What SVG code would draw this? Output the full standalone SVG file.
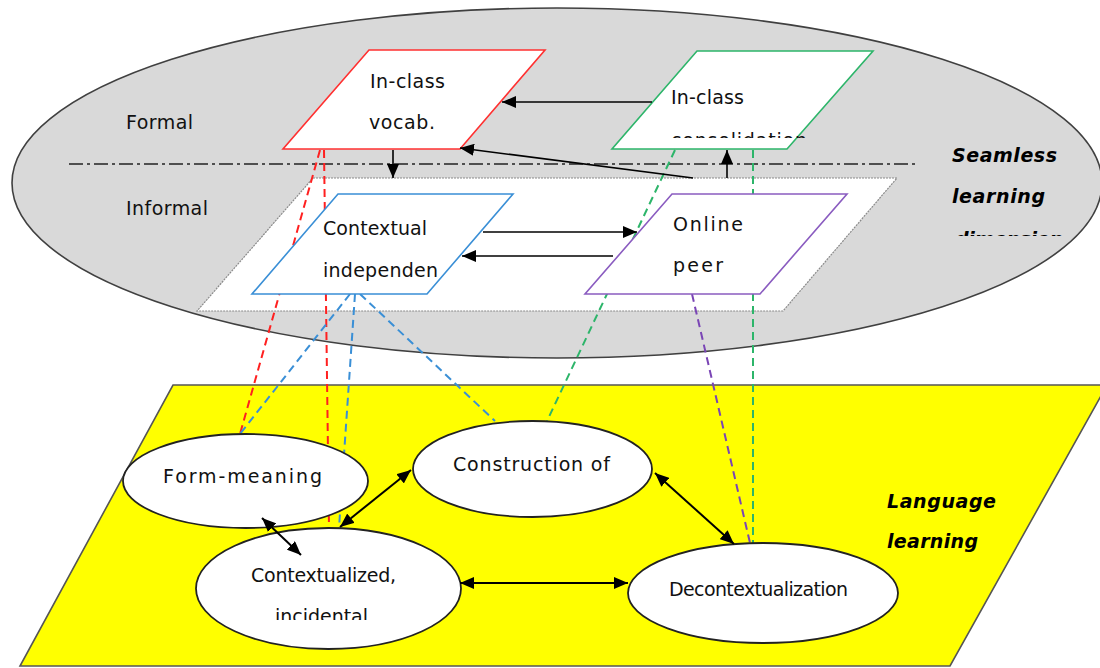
<svg xmlns="http://www.w3.org/2000/svg" width="1100" height="668" viewBox="0 0 1100 668">
<style>
.t{font-family:"DejaVu Sans","Verdana",sans-serif;font-size:19px;fill:#111}
.bi{font-family:"DejaVu Sans",sans-serif;font-size:19px;font-weight:bold;font-style:italic;fill:#000}
.arr{stroke:#000;stroke-width:1.6;fill:none}
.arr2{stroke:#000;stroke-width:2;fill:none}
.dash{fill:none;stroke-width:2;stroke-dasharray:8 5}
.para{fill:#fff;stroke-width:1.6}
.ell{fill:#fff;stroke:#222;stroke-width:1.8}
</style>
<defs>
<marker id="ah" viewBox="0 0 14 12" markerWidth="14" markerHeight="12" refX="14" refY="6" orient="auto-start-reverse" markerUnits="userSpaceOnUse">
<path d="M0,0 L14,6 L0,12 z" fill="#000"/>
</marker>
<clipPath id="cCons"><rect x="600" y="100" width="250" height="38"/></clipPath>
<clipPath id="cDim"><rect x="930" y="210" width="170" height="26"/></clipPath>
<clipPath id="cInc"><rect x="220" y="600" width="200" height="20"/></clipPath>
</defs>

<g id="seamless-dimension">
<ellipse cx="557" cy="183" rx="545" ry="175" fill="#d9d9d9" stroke="#404040" stroke-width="1.6"/>
<line x1="69" y1="164" x2="918" y2="164" stroke="#222" stroke-width="1.6" stroke-dasharray="14 4 3 4"/>
<text class="t" x="126" y="129" textLength="67" lengthAdjust="spacing">Formal</text>
<text class="t" x="126" y="215" textLength="82" lengthAdjust="spacing">Informal</text>
<text class="bi" x="952" y="162" textLength="105" lengthAdjust="spacing">Seamless</text>
<text class="bi" x="952" y="203" textLength="93" lengthAdjust="spacing">learning</text>
<text class="bi" x="955" y="246" textLength="108" lengthAdjust="spacing" clip-path="url(#cDim)">dimension</text>
</g>

<g id="informal-plane">
<polygon points="313,178 897,178 783,311 197,311" fill="#fff" stroke="#8a8a8a" stroke-width="1.2" stroke-dasharray="2 1"/>
</g>

<g id="language-learning">
<polygon points="173,385 1107,385 950,666 20,666" fill="#ffff00" stroke="#555" stroke-width="1.6"/>
<text class="bi" x="887" y="508" textLength="109" lengthAdjust="spacing">Language</text>
<text class="bi" x="887" y="548" textLength="91" lengthAdjust="spacing">learning</text>
</g>

<g id="links">
<path class="dash" stroke="#ff2020" d="M320,150 L240,434"/>
<path class="dash" stroke="#ff2020" d="M324,150 L329,528"/>
<path class="dash" stroke="#3a8fd6" d="M350,294 L240,434"/>
<path class="dash" stroke="#3a8fd6" d="M355,294 L339,528"/>
<path class="dash" stroke="#3a8fd6" d="M360,294 L495,421"/>
<path class="dash" stroke="#2db56a" d="M675,150 L547,421"/>
<path class="dash" stroke="#2db56a" d="M753,150 L753,543"/>
<path class="dash" stroke="#7a45b5" d="M692,294 L750,543"/>
</g>

<g id="in-class-vocab">
<polygon class="para" points="369,50 545,50 460,149 283,149" stroke="#ff3030"/>
<text class="t" x="370" y="88" textLength="75" lengthAdjust="spacing">In-class</text>
<text class="t" x="369" y="129" textLength="66" lengthAdjust="spacing">vocab.</text>
</g>

<g id="in-class-consolidation">
<polygon class="para" points="697,51 873,51 787,149 612,149" stroke="#2db56a"/>
<text class="t" x="671" y="104" textLength="73" lengthAdjust="spacing">In-class</text>
<text class="t" x="671" y="147" textLength="136" lengthAdjust="spacing" clip-path="url(#cCons)">consolidation</text>
</g>

<g id="contextual-independent">
<polygon class="para" points="338,194 513,194 427,294 252,294" stroke="#3a8fd6"/>
<text class="t" x="323" y="235" textLength="104" lengthAdjust="spacing">Contextual</text>
<text class="t" x="323" y="277" textLength="115" lengthAdjust="spacing">independen</text>
</g>

<g id="online-peer">
<polygon class="para" points="672,194 847,194 760,294 585,294" stroke="#8a5cc0"/>
<text class="t" x="673" y="231" textLength="70" lengthAdjust="spacing">Online</text>
<text class="t" x="673" y="272" textLength="50" lengthAdjust="spacing">peer</text>
</g>

<g id="form-meaning">
<ellipse class="ell" cx="245.5" cy="481" rx="122.5" ry="47"/>
<text class="t" x="163" y="483" textLength="159" lengthAdjust="spacing">Form-meaning</text>
</g>

<g id="construction">
<ellipse class="ell" cx="532.5" cy="469" rx="119.5" ry="48"/>
<text class="t" x="453" y="471" textLength="157" lengthAdjust="spacing">Construction of</text>
</g>

<g id="contextualized">
<ellipse class="ell" cx="328.5" cy="588.5" rx="132.5" ry="60.5"/>
<text class="t" x="251" y="582" font-size="17" textLength="145" lengthAdjust="spacing">Contextualized,</text>
<text class="t" x="275" y="623" font-size="17" textLength="93" lengthAdjust="spacing" clip-path="url(#cInc)">incidental</text>
</g>

<g id="decontextualization">
<ellipse class="ell" cx="763" cy="593" rx="135" ry="50"/>
<text class="t" x="669" y="596" font-size="17" textLength="179" lengthAdjust="spacing">Decontextualization</text>
</g>

<g id="connectors">
<path class="arr" d="M652,102 L502,102" marker-end="url(#ah)"/>
<path class="arr" d="M693,178 L460,148" marker-end="url(#ah)"/>
<path class="arr" d="M393,150 L393,178" marker-end="url(#ah)"/>
<path class="arr" d="M727,178 L727,150" marker-end="url(#ah)"/>
<path class="arr" d="M483,232 L637,232" marker-end="url(#ah)"/>
<path class="arr" d="M613,256 L462,256" marker-end="url(#ah)"/>
<path class="arr2" d="M262,518 L301,555" marker-start="url(#ah)" marker-end="url(#ah)"/>
<path class="arr2" d="M340,527 L411,470" marker-start="url(#ah)" marker-end="url(#ah)"/>
<path class="arr2" d="M655,473 L734,544" marker-start="url(#ah)" marker-end="url(#ah)"/>
<path class="arr2" d="M460,583 L628,583" marker-start="url(#ah)" marker-end="url(#ah)"/>
</g>
</svg>
